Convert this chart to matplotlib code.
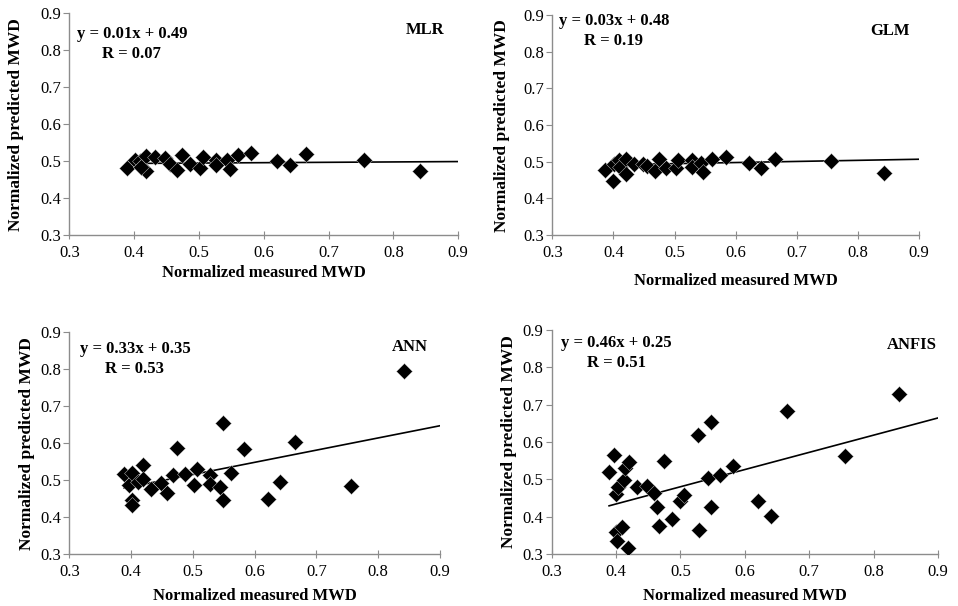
import matplotlib
matplotlib.use("Agg")
import matplotlib.pyplot as plt
import numpy as np

plt.rcParams['font.family'] = ['Liberation Serif', 'DejaVu Serif']

# measured vs predicted (normalized MWD)
mlr_x = [0.389, 0.401, 0.409, 0.411, 0.418, 0.418, 0.411, 0.432, 0.448, 0.455,
         0.466, 0.474, 0.486, 0.502, 0.506, 0.527, 0.527, 0.543, 0.548, 0.560,
         0.581, 0.621, 0.640, 0.665, 0.755, 0.841]
mlr_y = [0.482, 0.504, 0.500, 0.484, 0.515, 0.474, 0.484, 0.510, 0.509, 0.493,
         0.476, 0.518, 0.493, 0.482, 0.511, 0.502, 0.491, 0.504, 0.479, 0.518,
         0.523, 0.500, 0.490, 0.520, 0.502, 0.474]

glm_x = [0.387, 0.399, 0.401, 0.409, 0.411, 0.421, 0.421, 0.433, 0.449, 0.455,
         0.468, 0.475, 0.486, 0.502, 0.506, 0.528, 0.528, 0.543, 0.546, 0.561,
         0.584, 0.622, 0.641, 0.665, 0.755, 0.842]
glm_y = [0.477, 0.447, 0.494, 0.505, 0.485, 0.509, 0.466, 0.495, 0.495, 0.488,
         0.475, 0.509, 0.484, 0.482, 0.505, 0.505, 0.485, 0.496, 0.473, 0.509,
         0.512, 0.496, 0.484, 0.509, 0.502, 0.470]

ann_x = [0.389, 0.397, 0.402, 0.402, 0.402, 0.412, 0.419, 0.420, 0.432, 0.448,
         0.458, 0.468, 0.474, 0.487, 0.502, 0.506, 0.528, 0.528, 0.544, 0.548,
         0.548, 0.562, 0.583, 0.621, 0.641, 0.666, 0.756, 0.841]
ann_y = [0.516, 0.486, 0.519, 0.447, 0.432, 0.496, 0.540, 0.504, 0.476, 0.492,
         0.465, 0.513, 0.586, 0.516, 0.487, 0.530, 0.513, 0.489, 0.481, 0.655,
         0.447, 0.519, 0.584, 0.449, 0.496, 0.602, 0.485, 0.795]

anfis_x = [0.389, 0.397, 0.400, 0.403, 0.400, 0.402, 0.409, 0.412, 0.413, 0.420,
           0.418, 0.432, 0.448, 0.459, 0.464, 0.467, 0.474, 0.487, 0.500, 0.505,
           0.527, 0.528, 0.542, 0.548, 0.548, 0.561, 0.582, 0.621, 0.640, 0.665,
           0.755, 0.840]
anfis_y = [0.520, 0.564, 0.460, 0.478, 0.359, 0.335, 0.373, 0.499, 0.531, 0.545,
           0.317, 0.480, 0.482, 0.464, 0.426, 0.375, 0.549, 0.395, 0.442, 0.458,
           0.619, 0.364, 0.504, 0.654, 0.426, 0.512, 0.536, 0.442, 0.402, 0.684,
           0.562, 0.729]

models = ['MLR', 'GLM', 'ANN', 'ANFIS']
slopes = [0.01, 0.03, 0.33, 0.46]
intercepts = [0.49, 0.48, 0.35, 0.25]
r_values = ['0.07', '0.19', '0.53', '0.51']
ticks = [0.3, 0.4, 0.5, 0.6, 0.7, 0.8, 0.9]

xs = [mlr_x, glm_x, ann_x, anfis_x]
ys = [mlr_y, glm_y, ann_y, anfis_y]

# panel geometry (figure fractions) and text placement, per panel
rects = [[0.0723, 0.612, 0.406, 0.366],
         [0.5765, 0.612, 0.383, 0.363],
         [0.0723, 0.0858, 0.387, 0.366],
         [0.576, 0.0858, 0.403, 0.370]]
eq_pos = [(0.161, 0.905, 0.815), (0.168, 0.972, 0.881),
          (0.177, 0.923, 0.833), (0.168, 0.942, 0.853)]
name_pos = [(0.914, 0.923), (0.92, 0.93), (0.919, 0.932), (0.933, 0.933)]
ylab_x = [-0.117, -0.115, -0.093, -0.09]
xlab_y = [-0.135, -0.173, -0.153, -0.152]

grey = '#8c8c8c'

fig = plt.figure(figsize=(9.58, 6.06), dpi=100)

for i in range(4):
    ax = fig.add_axes(rects[i])
    x = np.array(xs[i])
    y = np.array(ys[i])
    ax.scatter(x, y, marker='D', s=66, color='black', edgecolors='#d0d0d0',
               linewidths=0.3, zorder=3)
    # Excel-style trendline, drawn to the end of the axis
    lx = np.array([x.min(), 0.9])
    ax.plot(lx, slopes[i] * lx + intercepts[i], color='black', lw=1.2, zorder=2)

    ax.set_xlim(0.3, 0.9)
    ax.set_ylim(0.3, 0.9)
    ax.set_xticks(ticks)
    ax.set_yticks(ticks)
    ax.set_xticklabels([f'{t:.1f}' for t in ticks])
    ax.set_yticklabels([f'{t:.1f}' for t in ticks])
    for s in ['top', 'right']:
        ax.spines[s].set_visible(False)
    for s in ['left', 'bottom']:
        ax.spines[s].set_color(grey)
        ax.spines[s].set_linewidth(1.0)
    ax.tick_params(axis='x', direction='inout', length=6, color=grey,
                   labelsize=12, pad=4)
    ax.tick_params(axis='y', direction='out', length=4, color=grey,
                   labelsize=12, pad=2)

    ax.set_xlabel('Normalized measured MWD', fontsize=12, fontweight='bold')
    ax.xaxis.set_label_coords(0.5, xlab_y[i])
    ax.set_ylabel('Normalized predicted MWD', fontsize=12.5, fontweight='bold')
    ax.yaxis.set_label_coords(ylab_x[i], 0.5)

    ex, ey, ry = eq_pos[i]
    ax.text(ex, ey, f'y = {slopes[i]:.2f}x + {intercepts[i]:.2f}',
            transform=ax.transAxes, ha='center', va='center',
            fontsize=12, fontweight='bold')
    ax.text(ex, ry, f'R = {r_values[i]}', transform=ax.transAxes,
            ha='center', va='center', fontsize=12, fontweight='bold')
    nx, ny = name_pos[i]
    ax.text(nx, ny, models[i], transform=ax.transAxes, ha='center',
            va='center', fontsize=12, fontweight='bold')

fig.savefig('out.png', dpi=100)
